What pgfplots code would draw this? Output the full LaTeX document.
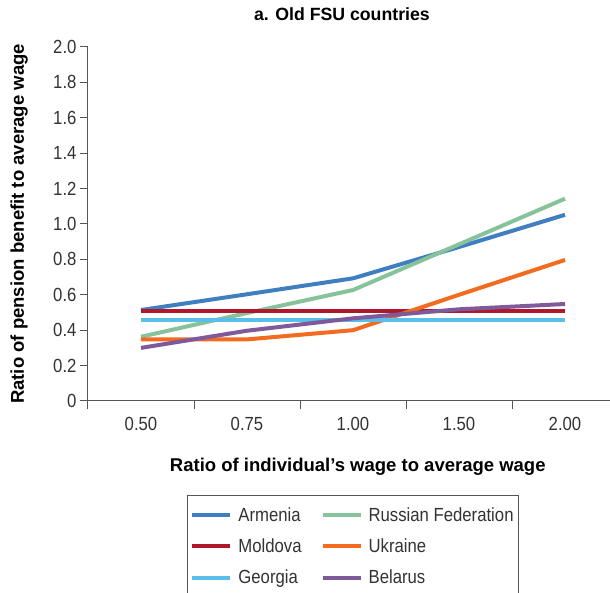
\documentclass[border=0pt]{standalone}
\usepackage{fontspec}
\setmainfont{Liberation Sans}[FakeStretch=0.88]
\newfontfamily\lblfont{Liberation Sans}
\usepackage{pgfplots}
\pgfplotsset{compat=1.18}
\definecolor{armenia}{HTML}{3F7FC1}
\definecolor{moldova}{HTML}{B0172A}
\definecolor{georgia}{HTML}{5BBDEA}
\definecolor{russia}{HTML}{86C39A}
\definecolor{ukraine}{HTML}{F26B21}
\definecolor{belarus}{HTML}{7E5A9B}
\definecolor{axgray}{HTML}{555555}
\definecolor{txt}{HTML}{333333}
\begin{document}
\begin{tikzpicture}
\path[use as bounding box] (-88pt,-192pt) rectangle (522pt,401pt);
\begin{axis}[
  at={(0pt,0pt)}, anchor=south west,
  scale only axis,
  width=530pt, height=354pt,
  xmin=-0.5, xmax=4.5,
  ymin=0, ymax=2.0,
  axis x line*=bottom, axis y line*=left,
  axis line style={axgray, line width=1pt},
  xtick={0,1,2,3,4},
  xticklabels={0.50,0.75,1.00,1.50,2.00},
  minor xtick={-0.5,0.5,1.5,2.5,3.5},
  ytick={0,0.2,0.4,0.6,0.8,1.0,1.2,1.4,1.6,1.8,2.0},
  yticklabels={0,0.2,0.4,0.6,0.8,1.0,1.2,1.4,1.6,1.8,2.0},
  tick align=outside,
  major tick length=8pt,
  minor tick length=8pt,
  major tick style={axgray, line width=1pt},
  minor tick style={axgray, line width=1pt},
  major x tick style={draw=none},
  tick label style={font=\fontsize{19}{22}\selectfont, text=txt},
  xticklabel style={yshift=-5pt},
  title={\lblfont\textbf{a. Old FSU countries}},
  title style={font=\fontsize{17.7}{20}\selectfont, text=black, at={(axis description cs:0.479,1.076)}, anchor=center},
  xlabel={\lblfont\textbf{Ratio of individual’s wage to average wage}},
  ylabel={\lblfont\textbf{Ratio of pension benefit to average wage}},
  label style={font=\fontsize{18.5}{21}\selectfont, text=black},
  xlabel style={at={(axis description cs:0.509,-0.1864)}, anchor=center},
  ylabel style={at={(axis description cs:-0.130,0.5)}, anchor=center},
  legend columns=2,
  legend style={at={(axis description cs:0.1868,-0.2655)}, anchor=north west, draw=axgray, line width=0.8pt,
    font=\fontsize{19}{22}\selectfont, text=txt, row sep=12pt, inner xsep=3pt, inner ysep=10pt,
    /tikz/every even column/.append style={column sep=17pt}},
  legend image code/.code={\draw[#1, line width=4pt] (0pt,0pt) -- (38pt,0pt); \path (42pt,0pt);},
  legend cell align=left,
]
\addplot[armenia, line width=4pt] coordinates {(0,0.514) (1,0.603) (2,0.693) (3,0.870) (4,1.052)};
\addlegendentry{Armenia}
\addplot[russia, line width=4pt] coordinates {(0,0.363) (1,0.497) (2,0.627) (3,0.885) (4,1.143)};
\addlegendentry{Russian Federation}
\addplot[moldova, line width=4pt] coordinates {(0,0.508) (1,0.508) (2,0.508) (3,0.508) (4,0.508)};
\addlegendentry{Moldova}
\addplot[ukraine, line width=4pt] coordinates {(0,0.348) (1,0.348) (2,0.400) (3,0.600) (4,0.797)};
\addlegendentry{Ukraine}
\addplot[georgia, line width=4pt] coordinates {(0,0.458) (1,0.458) (2,0.458) (3,0.458) (4,0.458)};
\addlegendentry{Georgia}
\addplot[belarus, line width=4pt] coordinates {(0,0.300) (1,0.397) (2,0.467) (3,0.518) (4,0.548)};
\addlegendentry{Belarus}
\end{axis}
\end{tikzpicture}
\end{document}
